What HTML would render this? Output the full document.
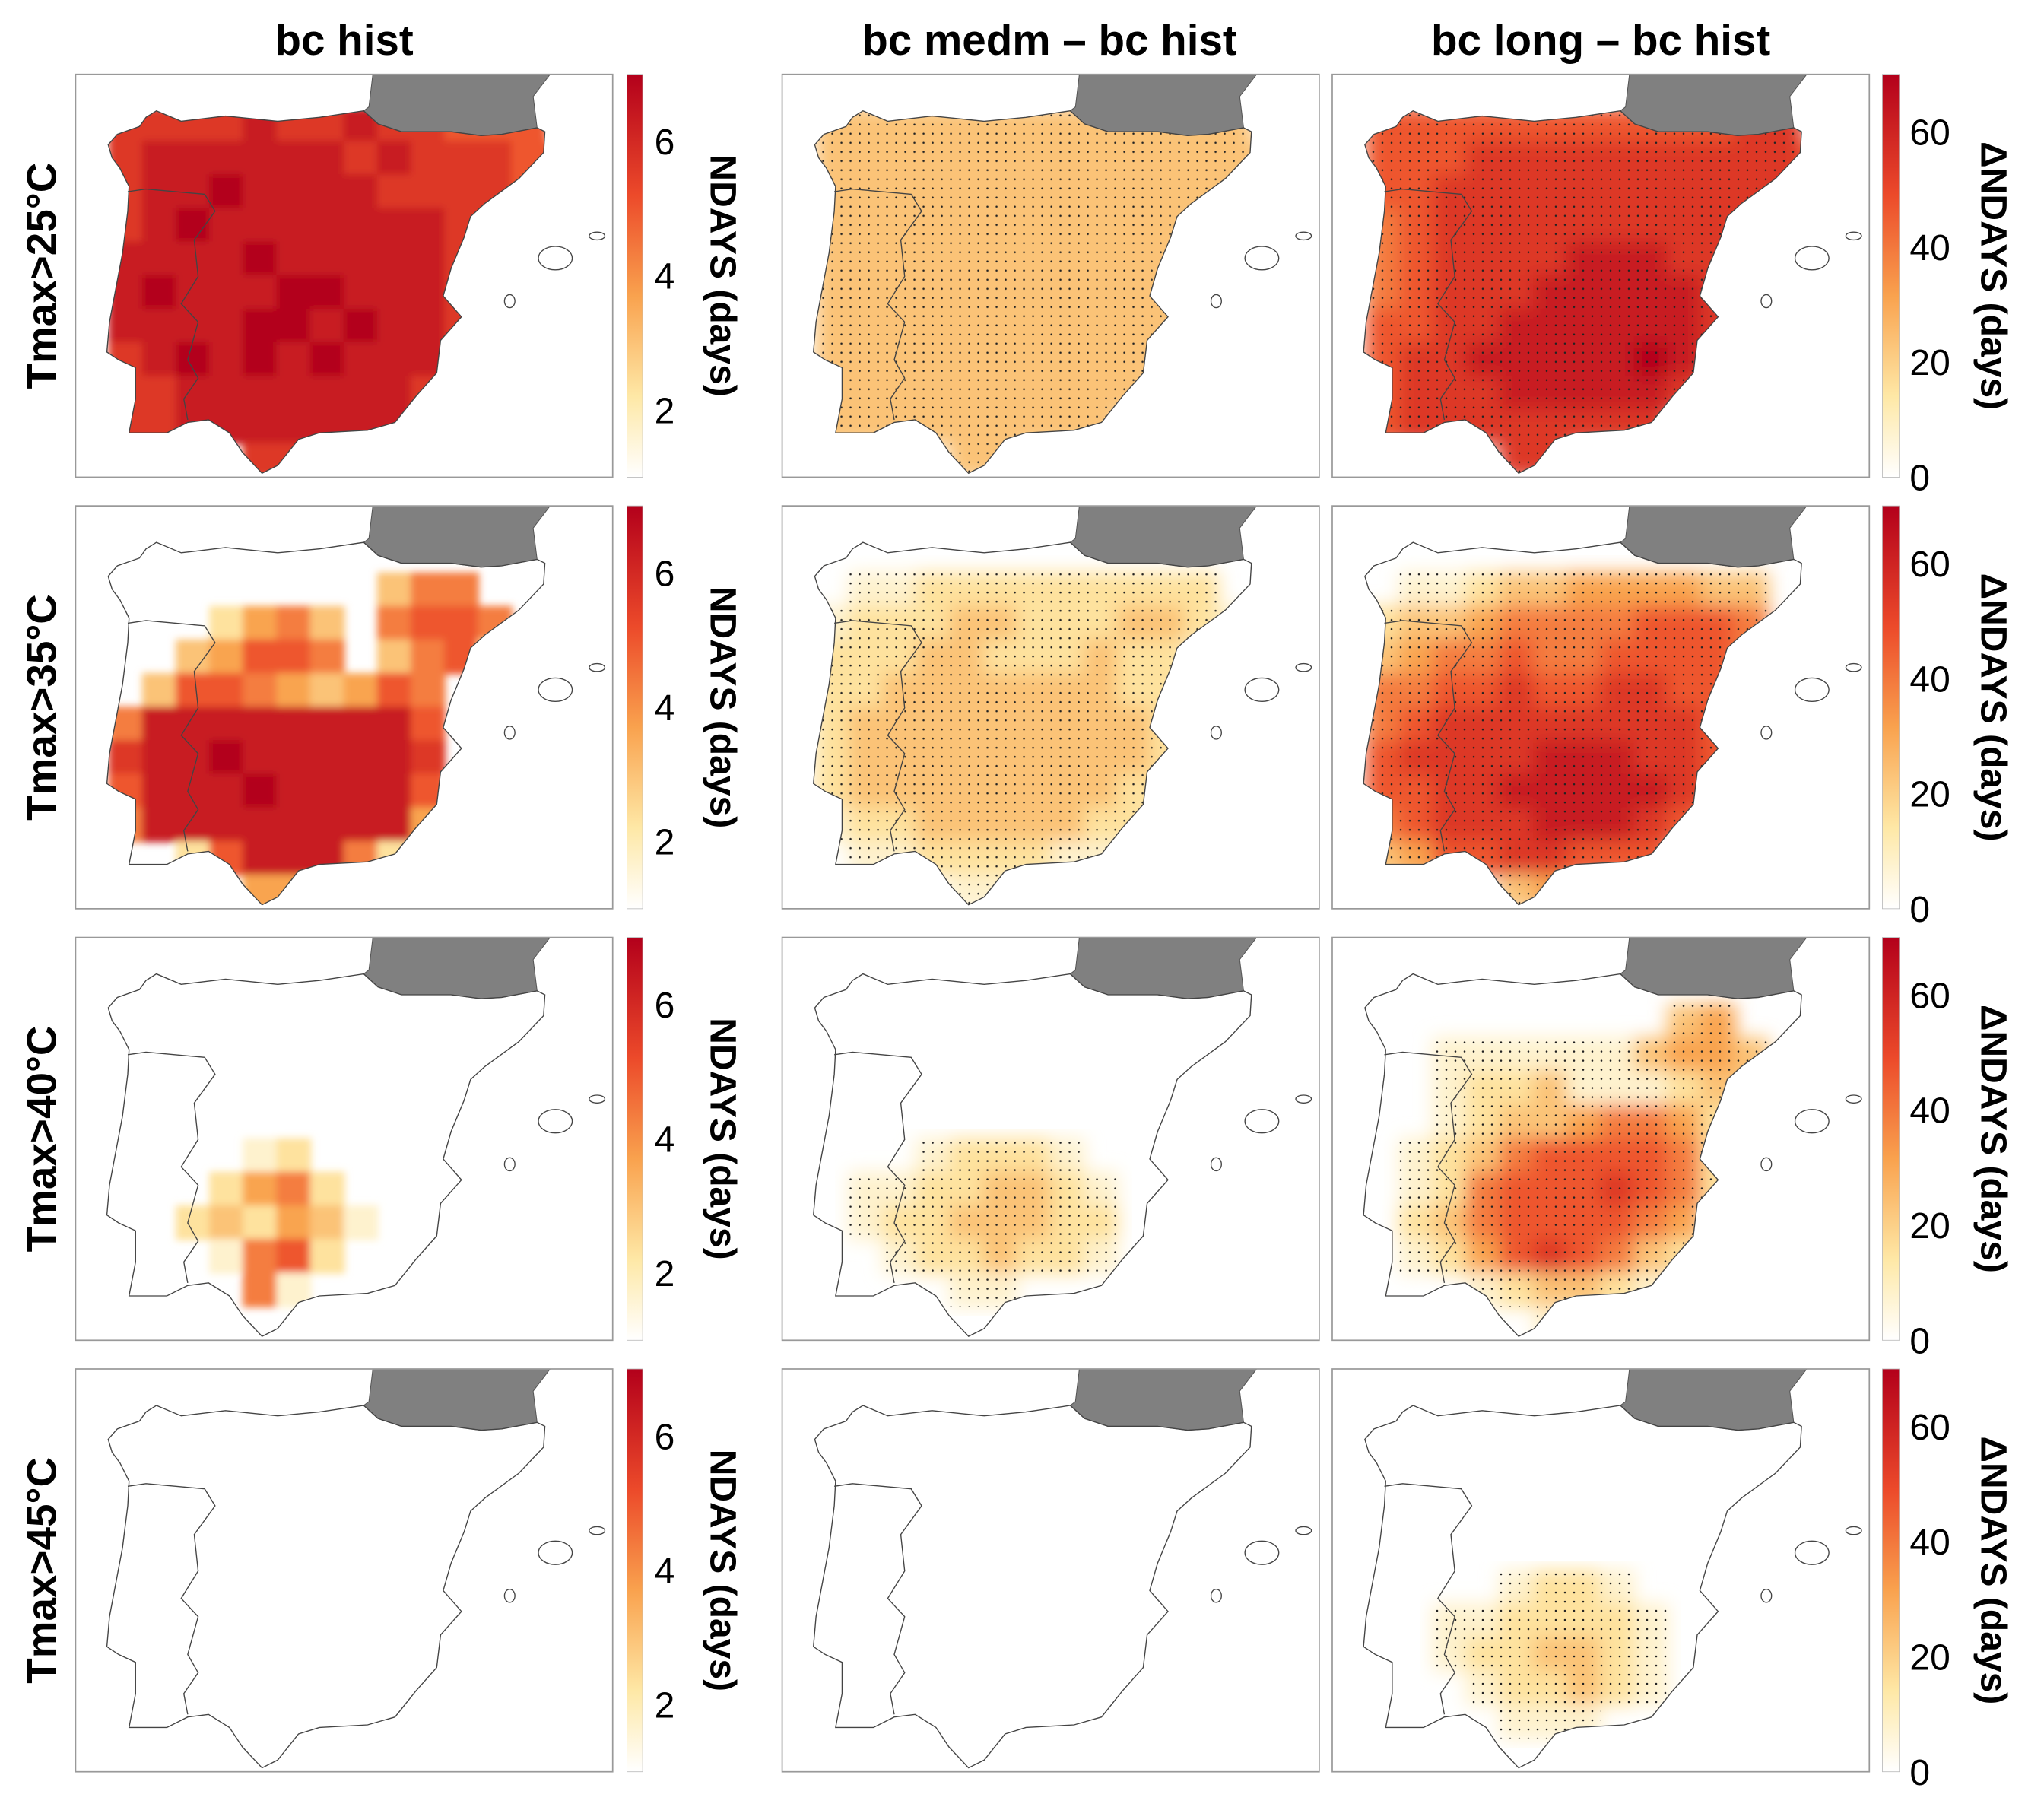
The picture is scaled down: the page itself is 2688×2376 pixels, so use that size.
<!DOCTYPE html>
<html><head><meta charset="utf-8"><style>
html,body{margin:0;padding:0;background:#fff;}
svg{display:block;font-family:"Liberation Sans",sans-serif;}
</style></head><body>
<svg id="fig" width="2688" height="2376" viewBox="0 0 1568 1386" xmlns="http://www.w3.org/2000/svg">
<defs>
<linearGradient id="cbgrad" x1="0" y1="1" x2="0" y2="0">
<stop offset="0" stop-color="#ffffff"/><stop offset="0.2" stop-color="#fee8a6"/><stop offset="0.45" stop-color="#f9a24e"/><stop offset="0.7" stop-color="#ec4a2a"/><stop offset="1" stop-color="#b3001b"/>
</linearGradient>
<pattern id="dots" patternUnits="userSpaceOnUse" width="7" height="7"><circle cx="3.5" cy="3.5" r="0.75" fill="#222"/></pattern>
<filter id="blurS" x="-5%" y="-5%" width="110%" height="110%"><feGaussianBlur stdDeviation="3"/></filter>
<filter id="blurL" x="-5%" y="-5%" width="110%" height="110%"><feGaussianBlur stdDeviation="7"/></filter>
</defs>
<g id="root"></g>
</svg>
<script>
const cols=["bc hist","bc medm – bc hist","bc long – bc hist"];
const rowLabels=["Tmax>25°C","Tmax>35°C","Tmax>40°C","Tmax>45°C"];
const histTicks=[2,4,6];
const deltaTicks=[0,20,40,60];
const Z="0000000000000000";
const gridA=[Z,"0777787787766600","0788888878777660","0788988887777650","0789888888877600","0888898888876000","0898889988876000","0888899898877000","0789898988877000","0778888888770000","0778888888700000","0000077000000000"];
const gridB=[Z,Z,"0000000003550000","0000245305665000","0003466503562000","0036654346500000","0588888888600000","0788988888700000","0688898888600000","0588888888400000","0002688852000000","0000044000000000"];
const gridC=[Z,Z,Z,Z,Z,Z,"0000012000000000","0000245200000000","0002324310000000","0000156200000000","0000051000000000",Z];
const gridD=[Z,Z,Z,Z,Z,Z,Z,Z,Z,Z,Z,Z];
const gridE=[Z,"0333333333333300","0333333333333330","0333333333333330","0333333333333300","0333333333333000","0333333333333000","0333333333333000","0333333333330000","0333333333300000","0333333333000000","0000033000000000"];
const gridF=[Z,Z,"0011222222222000","0122233222332100","0222332223221000","0223333333220000","0233333333320000","0233333333320000","0233333333220000","0122333332200000","0011222211000000","0000011000000000"];
const gridG=[Z,Z,Z,Z,Z,Z,"0000122210000000","0011223321000000","0012233322000000","0001223221000000","0000011000000000",Z];
const gridH=gridD;
const gridI=[Z,"0666666666667700","0666777777777760","0667777777777760","0567777777777700","0567777888777000","0567778888877000","0667788888877000","0677888889870000","0677788888700000","0677777777000000","0000077000000000"];
const gridJ=[Z,Z,"0011233444433000","0233455556665000","0345565566665000","0556676677660000","0567777777760000","0677778887760000","0667788888760000","0567778887600000","0346677666000000","0000034000000000"];
const gridK=[Z,Z,"0000000000340000","0001111113443000","0001223111233000","0001233455420000","0012356666520000","0012566676520000","0023566665410000","0012467653200000","0000123321000000","0000001000000000"];
const gridL=[Z,Z,Z,Z,Z,Z,"0000012210000000","0001122221000000","0001223321000000","0000122321000000","0000011100000000",Z];
const panelGrids=[[gridA,gridE,gridI],[gridB,gridF,gridJ],[gridC,gridG,gridK],[gridD,gridH,gridL]];

const NS="http://www.w3.org/2000/svg";
const root=document.getElementById("root");
function mk(tag,attrs,parent){const e=document.createElementNS(NS,tag);for(const k in attrs)e.setAttribute(k,attrs[k]);(parent||root).appendChild(e);return e;}
const PX=[58,600,1022],PY=[57,388,719,1050],PW=412,PH=309,NC=16,NR=12,CW=PW/NC,CH=PH/NR;
const land="M221,28 L232,38 L250,44 L288,44 L311,47 L327,46 L354,41 L360,44 L359,60 L340,80 L314,99 L303,109 L298,125 L288,149 L282,170 L296,186 L280,204 L277,229 L261,247 L245,267 L224,273 L187,275 L171,280 L155,300 L143,306 L128,290 L118,275 L102,265 L86,267 L70,275 L41,275 L46,249 L46,225 L33,219 L24,213 L26,190 L36,137 L40,105 L41,86 L34,72 L28,64 L25,54 L32,46 L49,40 L54,33 L62,28 L81,36 L115,32 L155,36 L187,33 Z";
const france="M228,0 L225,25 L221,28 L232,38 L250,44 L288,44 L311,47 L327,46 L354,41 L351,17 L364,0 Z";
const border="M40,90 L54,88 L99,92 L107,105 L91,127 L94,155 L81,176 L94,190 L86,219 L94,233 L83,249 L86,265";
const stops=[[0,[255,255,255]],[0.2,[254,232,166]],[0.45,[249,162,78]],[0.7,[236,74,42]],[1,[179,0,27]]];
function cmap(t){for(let i=1;i<stops.length;i++){if(t<=stops[i][0]){const a=stops[i-1],b=stops[i],f=(t-a[0])/(b[0]-a[0]);return "rgb("+a[1].map((v,j)=>Math.round(v+(b[1][j]-v)*f)).join(",")+")";}}return "rgb(179,0,27)";}
const cp=mk("clipPath",{id:"landclip"},document.querySelector("defs"));
mk("path",{d:land},cp);

for(let r=0;r<4;r++){for(let c=0;c<3;c++){
  const x0=PX[c],y0=PY[r];
  const g=mk("g",{transform:"translate("+x0+","+y0+")"});
  
  
  mk("rect",{x:0,y:0,width:PW,height:PH,fill:"#fff"},g);
  const grid=panelGrids[r][c];
  const clipG=mk("g",{"clip-path":"url(#landclip)"},g);
  const fg=mk("g",{filter:c===0?"url(#blurS)":"url(#blurL)"},clipG);
  for(let i=0;i<NR;i++)for(let j=0;j<NC;j++){const d=+grid[i][j];if(d>0){
    const cell=mk("rect",{x:j*CW-0.5,y:i*CH-0.5,width:CW+1,height:CH+1,fill:cmap(d/9)},fg);
    
    
  }}
  if(c>0){for(let i=0;i<NR;i++)for(let j=0;j<NC;j++){const d=+grid[i][j];if(d>0){
    const st=mk("rect",{x:j*CW,y:i*CH,width:CW,height:CH,fill:"url(#dots)"},clipG);
    
    
  }}}
  const fr=mk("path",{d:france,fill:"#808080",stroke:"#555","stroke-width":0.6},g);
  
  
  const ib=mk("path",{d:land,fill:"none",stroke:"#444","stroke-width":0.8},g);
  
  
  mk("path",{d:border,fill:"none",stroke:"#444","stroke-width":0.8},g);
  mk("ellipse",{cx:368,cy:141,rx:13,ry:9,fill:"none",stroke:"#444","stroke-width":0.8},g);
  mk("ellipse",{cx:400,cy:124,rx:6,ry:3,fill:"none",stroke:"#444","stroke-width":0.8},g);
  mk("ellipse",{cx:333,cy:174,rx:4,ry:5,fill:"none",stroke:"#444","stroke-width":0.8},g);
  mk("rect",{x:0,y:0,width:PW,height:PH,fill:"none",stroke:"#999","stroke-width":1},g);
}}
const titleX=[264,805,1228];
cols.forEach((t,i)=>{const e=mk("text",{x:titleX[i],y:42,"text-anchor":"middle","font-size":33,"font-weight":"bold"});e.textContent=t;

});
rowLabels.forEach((t,i)=>{const cy=PY[i]+PH/2;const e=mk("text",{x:0,y:0,transform:"translate(43,"+cy+") rotate(-90)","text-anchor":"middle","font-size":32,"font-weight":"bold"});e.textContent=t;

});
for(let r=0;r<4;r++){
  const y0=PY[r];
  const cb1=mk("rect",{x:481,y:y0,width:12,height:PH,fill:"url(#cbgrad)",stroke:"#bbb","stroke-width":0.5});
  
  
  histTicks.forEach(v=>{const y=y0+(7-v)/6*PH;const t=mk("text",{x:502,y:y+10,"font-size":28});t.textContent=v;
  
  });
  const l1=mk("text",{x:0,y:0,transform:"translate(545,"+(y0+PH/2)+") rotate(90)","text-anchor":"middle","font-size":28,"font-weight":"bold"});l1.textContent="NDAYS (days)";
  
  
  const cb3=mk("rect",{x:1444,y:y0,width:13,height:PH,fill:"url(#cbgrad)",stroke:"#bbb","stroke-width":0.5});
  
  
  deltaTicks.forEach(v=>{const y=y0+(70-v)/70*PH;const t=mk("text",{x:1465,y:y+10,"font-size":28});t.textContent=v;
  
  });
  const l3=mk("text",{x:0,y:0,transform:"translate(1520,"+(y0+PH/2)+") rotate(90)","text-anchor":"middle","font-size":28,"font-weight":"bold"});l3.textContent="ΔNDAYS (days)";
  
  
}
</script>
</body></html>
